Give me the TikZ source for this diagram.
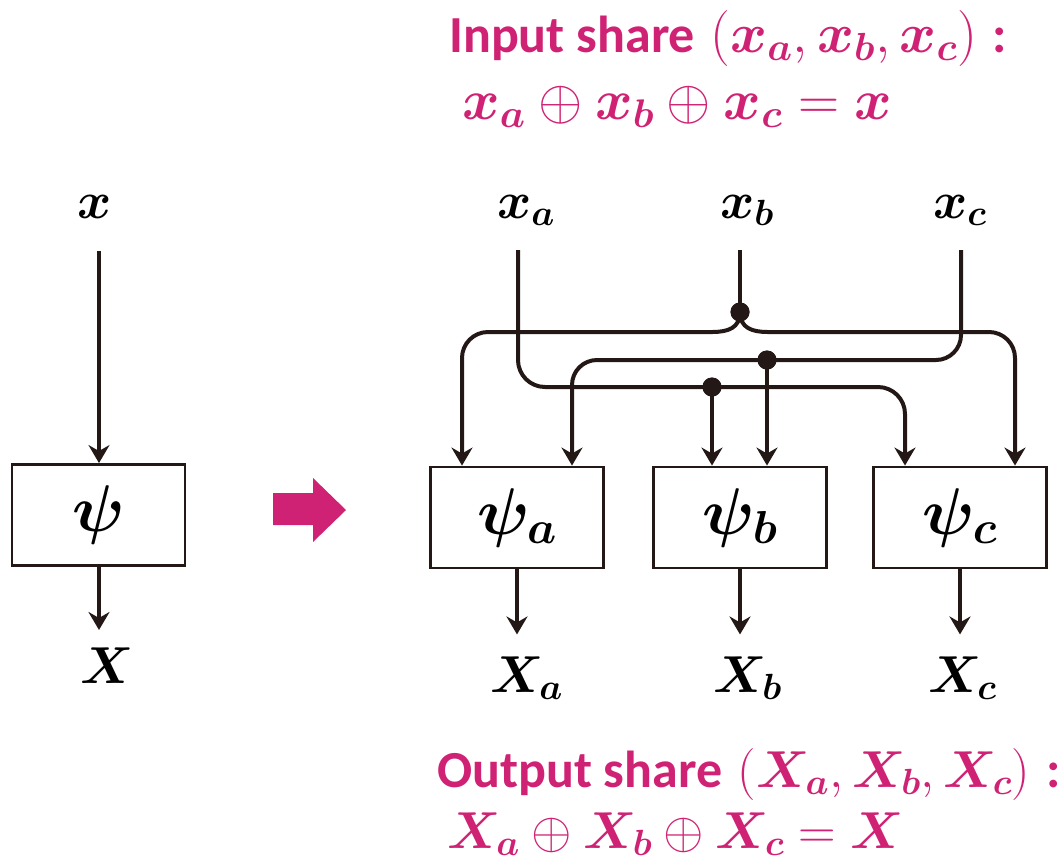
\documentclass[tikz,border=0pt]{standalone}
\usepackage{fix-cm}
\usepackage{fontspec}
\usepackage{bm}
\usetikzlibrary{arrows.meta}
\newfontfamily\titlefont{Carlito}
\definecolor{ink}{RGB}{35,24,21}
\definecolor{accent}{RGB}{208,34,116}
\newcommand{\bv}[2]{\bm{#1}_{\bm{#2}}}
\newcommand{\mathsize}[1]{\fontsize{#1}{#1}\selectfont}
\begin{document}
\begin{tikzpicture}[x=1pt,y=-1pt,
  wire/.style={draw=ink, line width=4pt},
  arr/.style={-{Stealth[length=18pt,width=21pt,inset=6pt]}},
  fbox/.style={draw=ink, line width=2.9pt, fill=white, minimum width=173pt,
    minimum height=101pt, inner sep=0pt, font=\fontsize{66}{70}\selectfont},
  dotn/.style={circle, fill=ink, minimum size=19pt, inner sep=0pt},
  lbl/.style={text=black, inner sep=0pt, anchor=base west, font=\fontsize{52}{60}\selectfont},
  ttl/.style={text=accent, inner sep=0pt, anchor=base west, font=\fontsize{52}{60}\selectfont}]
\useasboundingbox (0,0) rectangle (1062,863);

% ---- single function psi ----
\node[fbox] (P) at (98.5,515) {$\bm{\psi}$};
\node[lbl] (x) at (77,218) {$\bm{x}$};
\node[lbl] (X) at (80,683) {$\bm{X}$};
\coordinate (xin) at (99,251);
\coordinate (xout) at (99,630);
\draw[wire,arr] (xin) -- (xin |- P.north);
\draw[wire,arr] (xout |- P.south) -- (xout);

% ---- transition arrow ----
\fill[accent] (273,493) -- (313,493) -- (313,478) -- (346,510) -- (313,542)
  -- (313,525) -- (273,525) -- cycle;

% ---- shared implementation ----
\node[fbox] (A) at (517,517.5) {$\bv{\psi}{a}$};
\node[fbox] (B) at (740,517.5) {$\bv{\psi}{b}$};
\node[fbox] (C) at (960,517.5) {$\bv{\psi}{c}$};

\node[lbl] (xa) at (497,218) {$\bv{x}{a}$};
\node[lbl] (xb) at (720,218) {$\bv{x}{b}$};
\node[lbl] (xc) at (933,218) {$\bv{x}{c}$};
\node[lbl] (Xa) at (490,692) {$\bv{X}{a}$};
\node[lbl] (Xb) at (713,692) {$\bv{X}{b}$};
\node[lbl] (Xc) at (928,692) {$\bv{X}{c}$};

\coordinate (ia) at (518,250);
\coordinate (ib) at (740,250);
\coordinate (ic) at (961,250);
\coordinate (A1) at ([xshift=-55pt]A.north);
\coordinate (A2) at ([xshift=55pt]A.north);
\coordinate (B1) at ([xshift=-28pt]B.north);
\coordinate (B2) at ([xshift=27pt]B.north);
\coordinate (C1) at ([xshift=-55pt]C.north);
\coordinate (C2) at ([xshift=55pt]C.north);

\node[dotn] (d1) at (740,312) {};
\node[dotn] (d2) at (767,360) {};
\node[dotn] (d3) at (712,387) {};

% x_b splits to psi_a and psi_c
\draw[wire] (ib) -- (d1.center);
\draw[wire] (d1.center) .. controls (740,328) and (728,332) .. (712,332);
\draw[wire,arr,rounded corners=26pt] (712,332) -| (A1);
\draw[wire] (d1.center) .. controls (740,328) and (752,332) .. (768,332);
\draw[wire,arr,rounded corners=26pt] (768,332) -| (C2);
% x_c feeds psi_a and psi_b
\draw[wire,arr,rounded corners=25pt] (ic) |- (d2.center) -| (A2);
\draw[wire,arr] (d2.center) -- (B2);
% x_a feeds psi_b and psi_c
\draw[wire,arr,rounded corners=27pt] (ia) |- (d3.center) -| (C1);
\draw[wire,arr] (d3.center) -- (B1);

\node[dotn] at (d1) {};
\node[dotn] at (d2) {};
\node[dotn] at (d3) {};

% outputs
\foreach \n/\o in {A/oa,B/ob,C/oc}{
  \coordinate (\o) at ([yshift=-65pt]\n.south);
  \draw[wire,arr] (\n.south) -- (\o);
}

% ---- captions ----
\node[ttl] (t1) at (449,52)
  {{\titlefont\bfseries Input share} {\mathsize{56}$(\bv{x}{a},\bv{x}{b},\bv{x}{c})$} {\titlefont\bfseries :}};
\node[ttl] (t2) at (462,119)
  {\mathsize{57}$\bv{x}{a}\oplus\bv{x}{b}\oplus\bv{x}{c}=\bm{x}$};
\node[ttl] (t3) at (437,787)
  {{\titlefont\bfseries Output share} $(\bv{X}{a},\bv{X}{b},\bv{X}{c})$ {\titlefont\bfseries :}};
\node[ttl] (t4) at (447,848)
  {$\bv{X}{a}\oplus\bv{X}{b}\oplus\bv{X}{c}=\bm{X}$};
\end{tikzpicture}
\end{document}
